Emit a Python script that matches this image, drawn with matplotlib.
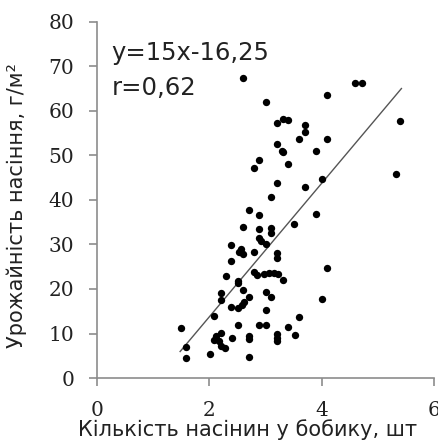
import matplotlib
matplotlib.use('Agg')
from matplotlib import pyplot as plt

# seeds per pod (x) vs seed yield, g/m2 (y)
seeds = [2.60, 3.00, 4.10, 4.60, 4.71, 3.21, 3.31, 3.40, 3.71, 3.71,
         3.60, 4.10, 3.21, 3.30, 3.31, 3.90, 5.40, 2.89, 2.80, 3.40,
         5.32, 3.21, 3.71, 4.01, 3.10, 2.71, 2.89, 3.90, 2.60, 2.89,
         3.10, 3.10, 3.51, 2.89, 2.92, 3.01, 2.39, 2.57, 2.52, 2.60,
         2.80, 3.21, 3.21, 2.39, 2.80, 2.85, 2.97, 3.07, 3.16, 3.22,
         3.31, 2.30, 2.51, 2.51, 2.60, 3.01, 3.10, 2.20, 2.20, 2.71,
         2.61, 2.58, 2.39, 2.51, 3.01, 2.09, 4.10, 4.01, 3.60, 1.50,
         2.51, 2.89, 3.01, 3.40, 2.21, 2.11, 2.09, 2.18, 2.40, 2.71,
         2.71, 3.21, 3.21, 3.21, 3.52, 2.20, 2.28, 1.59, 1.59, 2.01,
         2.71]
yields = [67.5, 62.0, 63.7, 66.3, 66.3, 57.4, 58.2, 57.9, 56.8, 55.3,
          53.6, 53.6, 52.5, 51.1, 50.7, 51.0, 57.7, 49.0, 47.3, 48.1,
          45.8, 43.8, 43.0, 44.7, 40.6, 37.8, 36.6, 36.9, 34.0, 33.5,
          33.6, 32.5, 34.5, 31.5, 30.7, 30.1, 29.9, 28.9, 28.3, 27.8,
          28.4, 28.0, 26.9, 26.4, 23.8, 23.1, 23.3, 23.7, 23.7, 23.4,
          22.0, 22.9, 21.8, 21.3, 19.8, 19.4, 18.1, 19.0, 17.5, 18.3,
          17.1, 16.4, 16.0, 15.7, 15.3, 14.0, 24.8, 17.8, 13.7, 11.2,
          11.8, 11.8, 11.8, 11.5, 10.2, 9.5, 8.5, 8.3, 8.9, 9.4,
          8.7, 10.0, 9.0, 8.3, 9.7, 7.3, 6.8, 6.9, 4.6, 5.4,
          4.7]

slope = 15
intercept = -16.25
fit_x = [1.48, 5.42]

x_ticks = [0, 2, 4, 6]
y_ticks = [0, 10, 20, 30, 40, 50, 60, 70, 80]

fig = plt.figure(figsize=(4.38, 4.42), dpi=100)
ax = fig.add_axes([97 / 438, 64 / 442, 337 / 438, 356 / 442])

ax.scatter(seeds, yields, s=28, color='black', zorder=3, linewidths=0)
ax.plot(fit_x, [slope * v + intercept for v in fit_x], color='#555555', lw=1)

ax.set_xlim(0, 6)
ax.set_ylim(0, 80)
ax.set_xticks(x_ticks)
ax.set_yticks(y_ticks)

for side in ['top', 'right']:
    ax.spines[side].set_visible(False)
for side in ['left', 'bottom']:
    ax.spines[side].set_color('#8c8c8c')
    ax.spines[side].set_linewidth(1.2)

ax.tick_params(axis='both', color='#8c8c8c', length=6, width=1.2,
               labelsize=14.5, pad=10.5)
for lab in ax.get_xticklabels() + ax.get_yticklabels():
    lab.set_family('DejaVu Serif')
    lab.set_color('#222222')

ax.text(0.26, 73, 'y=15x-16,25', fontsize=17.5, family='DejaVu Sans',
        va='center', ha='left', color='#222222')
ax.text(0.26, 65.2, 'r=0,62', fontsize=17.5, family='DejaVu Sans',
        va='center', ha='left', color='#222222')

fig.text(248 / 438, 12 / 442, 'Кількість насінин у бобику, шт', fontsize=15,
         family='DejaVu Sans', ha='center', va='center', color='#222222')
fig.text(17 / 438, 237 / 442, 'Урожайність насіння, г/м²', fontsize=15,
         family='DejaVu Sans', ha='center', va='center', rotation=90,
         color='#222222')

fig.savefig('out.png', dpi=100)
